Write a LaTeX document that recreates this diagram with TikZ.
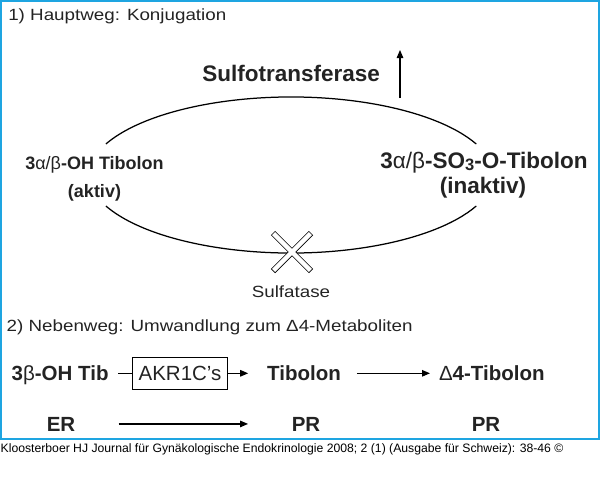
\documentclass[tikz,border=0pt]{standalone}
\usepackage{fontspec}
\setmainfont{Liberation Sans}
\newfontfamily\stretchf[FakeStretch=1.16]{Liberation Sans}
\usetikzlibrary{arrows.meta}
\definecolor{framecyan}{RGB}{30,165,225}
\definecolor{ink}{RGB}{35,35,35}
\newcommand{\setfs}[1]{\fontsize{#1pt}{#1pt}\selectfont}
\begin{document}
\begin{tikzpicture}[x=1pt,y=-1pt,
  lab/.style={inner sep=0pt, outer sep=0pt, text=ink},
  small/.style={lab, font=\stretchf\setfs{16.2}},
  bigb/.style={lab, font=\bfseries\setfs{20.5}},
  lbl/.style={lab, font=\bfseries\setfs{18}},
  rbl/.style={lab, font=\bfseries\setfs{22.5}},
  conn/.style={line width=1.15pt, draw=black},
  arr/.style={conn, -{Triangle[length=8pt,width=6.5pt]}},
  oval/.style={line width=1.25pt, draw=black},
]
\useasboundingbox (0,0) rectangle (600,501);
\draw[framecyan, line width=2pt] (1,1) rectangle (598.5,438.5);

% section 1
\node[small, anchor=base west] (h1) at (8.3,20.7) {1) Hauptweg: Konjugation};
\node[lab, anchor=base, font=\bfseries\setfs{22.5}] (sulfo) at (291.2,81.7) {Sulfotransferase};
\coordinate (arrbot) at (400,98);
\coordinate (arrtop) at (400,50);
\draw[arr] (arrbot) -- (arrtop);

\node[lbl, anchor=base] (lt1) at (94.5,169.3) {3{\mdseries α/β}-OH Tibolon};
\node[lbl, anchor=base] (lt2) at (94.5,197) {(aktiv)};
\node[rbl, anchor=base] (rt1) at (484,168) {3{\mdseries α/β}-SO\raisebox{-2.5pt}{\setfs{16.5}3}-O-Tibolon};
\node[rbl, anchor=base] (rt2) at (483,193) {(inaktiv)};

\coordinate (ul) at (105.9,144);
\draw[oval] (ul) arc[start angle=155.2, end angle=24.8, x radius=204pt, y radius=81pt];
\coordinate (ll) at (105.9,206);
\draw[oval] (ll) arc[start angle=204.8, end angle=335.2, x radius=204pt, y radius=81pt];

% crossed-out sulfatase
\draw[line width=6pt] (273,233) -- (311,271);
\draw[line width=6pt] (311,233) -- (273,271);
\draw[white, line width=4.4pt, shorten <=0.8pt, shorten >=0.8pt] (273,233) -- (311,271);
\draw[white, line width=4.4pt, shorten <=0.8pt, shorten >=0.8pt] (311,233) -- (273,271);
\node[small, anchor=base] (sulfa) at (291,297.3) {Sulfatase};

% section 2
\node[small, anchor=base west] (h2) at (6.7,331) {2) Nebenweg: Umwandlung zum Δ4-Metaboliten};

\node[bigb, anchor=base west] (tib3b) at (11.7,380) {3{\mdseries β}-OH Tib};
\node[lab, draw=black, line width=1.1pt, minimum width=95.4pt, minimum height=32pt,
      font=\setfs{20.5}] (akr) at (180,373.3) {AKR1C’s};
\node[bigb, anchor=base] (tibolon) at (304,380) {Tibolon};
\node[bigb, anchor=base west] (d4tib) at (439,380) {{\mdseries Δ}4-Tibolon};

\draw[conn] (akr.west) -- ++(-14.3,0);
\draw[arr, shorten >=19pt] (akr.east) -- (akr.east -| tibolon.west);
\draw[arr, shorten <=16pt, shorten >=9pt] (tibolon.east |- akr.east) -- (d4tib.west |- akr.east);

\node[bigb, anchor=base] (er) at (61,431) {ER};
\node[bigb, anchor=base] (pr1) at (306,431) {PR};
\node[bigb, anchor=base] (pr2) at (486,431) {PR};
\draw[arr, shorten <=43.4pt, shorten >=43.7pt] (er.east) -- (pr1.west);

% footer
\node[inner sep=0pt, anchor=base west, font=\setfs{12.2}] (foot) at (0.5,452.7)
  {Kloosterboer HJ Journal für Gynäkologische Endokrinologie 2008; 2 (1) (Ausgabe für Schweiz): 38-46 ©};
\end{tikzpicture}
\end{document}
